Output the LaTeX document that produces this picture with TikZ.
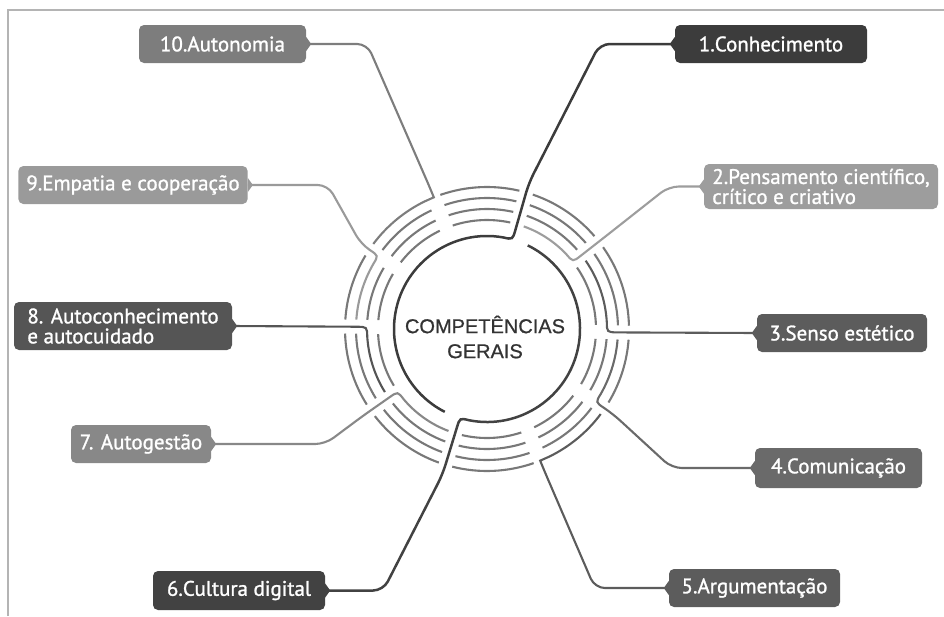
\documentclass[tikz,border=0pt]{standalone}
\usepackage{fontspec}
\setmainfont{PT Sans}
\newfontfamily\labelfont{PT Sans}[RawFeature={embolden=1.2}]
\newfontfamily\centerfont{Liberation Sans}[RawFeature={embolden=0.8}]
\usepackage{xcolor}
\definecolor{boxOne}{HTML}{3C3C3C}
\definecolor{boxTwo}{HTML}{9D9D9D}
\definecolor{boxThree}{HTML}{5C5C5C}
\definecolor{boxFour}{HTML}{6A6A6A}
\definecolor{boxFive}{HTML}{5C5C5C}
\definecolor{boxSix}{HTML}{424242}
\definecolor{boxSeven}{HTML}{888888}
\definecolor{boxEight}{HTML}{555555}
\definecolor{boxNine}{HTML}{9A9A9A}
\definecolor{boxTen}{HTML}{7D7D7D}
\definecolor{ringGray}{HTML}{787878}
\definecolor{coreDark}{HTML}{333333}
\definecolor{frameGray}{HTML}{B4B4B4}
\usetikzlibrary{positioning,calc}
\tikzset{%
  compBox/.style={%
    rectangle,
    rounded corners=5pt,
    text=white,
    font=\labelfont\fontsize{21}{20}\selectfont,
    minimum height=38pt,
    inner xsep=8pt,
    inner ysep=2pt
  },
  ringLine/.style={%
    draw=ringGray,
    line width=2.1pt
  },
  linkLine/.style={%
    line width=2.1pt,
    rounded corners=10pt
  },
  coreText/.style={%
    text=coreDark,
    align=center,
    font=\centerfont\fontsize{20}{25}\selectfont
  },
  frameLine/.style={%
    draw=frameGray,
    line width=1.2pt
  }
}

\begin{document}
\begin{tikzpicture}[x=1pt,y=1pt]
            \useasboundingbox (0,0) rectangle (944,-616);
            \draw[frameLine] (8,-616) -- (8,-10) -- (944,-10);

            \node[compBox, fill=boxOne, minimum width=192pt] (k1) at (771,-44) {1.Conhecimento};
            \node[compBox, fill=boxTwo, minimum width=234pt, minimum height=45pt, align=left] (k2) at (821,-186.5) {2.Pensamento científico,\\crítico e criativo};
            \node[compBox, fill=boxThree, minimum width=170pt] (k3) at (842,-333) {3.Senso estético};
            \node[compBox, fill=boxFour, minimum width=167pt, minimum height=40pt] (k4) at (838.5,-468) {4.Comunicação};
            \node[compBox, fill=boxFive, minimum width=171pt] (k5) at (754.5,-588) {5.Argumentação};
            \node[compBox, fill=boxSix, minimum width=172pt, minimum height=39pt] (k6) at (239,-590.5) {6.Cultura digital};
            \node[compBox, fill=boxSeven, minimum width=140pt] (k7) at (141,-444) {7. Autogestão};
            \node[compBox, fill=boxEight, minimum width=218pt, minimum height=48pt, align=left] (k8) at (123,-326) {8. Autoconhecimento\\e autocuidado};
            \node[compBox, fill=boxNine, minimum width=224pt] (k9) at (133,-185) {9.Empatia e cooperação};
            \node[compBox, fill=boxTen, minimum width=167pt] (k10) at (222.5,-44) {10.Autonomia};

            % little tags where the lines meet the boxes
            \foreach \n/\c in {k1/boxOne, k2/boxTwo, k3/boxThree, k4/boxFour, k5/boxFive}
              \fill[\c] ([yshift=7pt]\n.west) -- ([xshift=-5pt]\n.west) -- ([yshift=-7pt]\n.west) -- cycle;
            \foreach \n/\c in {k6/boxSix, k7/boxSeven, k8/boxEight, k9/boxNine, k10/boxTen}
              \fill[\c] ([yshift=7pt]\n.east) -- ([xshift=5pt]\n.east) -- ([yshift=-7pt]\n.east) -- cycle;

            \node[coreText] (core) at (485,-337) {COMPETÊNCIAS\\GERAIS};

            \begin{scope}[shift={(487,-329)}]
              % ring pieces between the spokes
              \foreach \a/\b/\tg in {-1.5/38/2, 38/74/1, 74/112/0, 112/146/4, 146/179/3, 179/215/2, 215/253/1, 253/292/0, 292/326/4, 326/358.5/3}
                \foreach \i in {1,...,4}{
                  \ifnum\i=\tg\relax\else
                    \pgfmathsetmacro\rr{98+11*\i}
                    \draw[ringLine] ({\a+401/\rr}:\rr) arc[start angle={\a+401/\rr}, end angle={\b-401/\rr}, radius=\rr];
                  \fi
                }

              \draw[linkLine, draw=boxOne, line width=2.5pt] (k1.west) -- ++(-75,0) -- (74:152) [sharp corners] -- (74:103) .. controls (74:93) .. (80:93) arc[start angle=80, end angle=243, radius=93];
              \draw[linkLine, draw=boxTwo] (k2.west) -- ++(-35,0) -- (38:152) [sharp corners] -- (38:119) .. controls (38:109) .. (43.3:109) arc[start angle=43.3, end angle=70.3, radius=109];
              \draw[linkLine, draw=boxThree, sharp corners] (k3.west) -- (-1.5:130) .. controls (-1.5:120) .. (3.3:120) arc[start angle=3.3, end angle=34.7, radius=120];
              \draw[linkLine, draw=boxFour] (k4.west) -- ++(-83,0) -- (-34:152) [sharp corners] -- (-34:141) .. controls (-34:131) .. (-29.6:131) arc[start angle=-29.6, end angle=-4.6, radius=131];
              \draw[linkLine, draw=boxFive] (k5.west) -- ++(-74,0) -- (-68:152) [sharp corners] .. controls (-68:142) .. (-64:142) arc[start angle=-64, end angle=-36.8, radius=142];
              \draw[linkLine, draw=boxSix, line width=2.5pt] (k6.east) -- ++(58,0) -- (-107:152) [sharp corners] -- (-107:103) .. controls (-107:93) .. (-101:93) arc[start angle=-101, end angle=64, radius=93];
              \draw[linkLine, draw=boxSeven] (k7.east) -- ++(114,0) -- (215:152) [sharp corners] -- (215:119) .. controls (215:109) .. (220.3:109) arc[start angle=220.3, end angle=249.3, radius=109];
              \draw[linkLine, draw=boxEight, sharp corners] (k8.east) -- (179:130) .. controls (179:120) .. (183.8:120) arc[start angle=183.8, end angle=211.7, radius=120];
              \draw[linkLine, draw=boxNine] (k9.east) -- ++(80,0) -- (146:152) [sharp corners] -- (146:141) .. controls (146:131) .. (150.4:131) arc[start angle=150.4, end angle=175.9, radius=131];
              \draw[linkLine, draw=boxTen] (k10.east) -- ++(61,0) -- (112:152) [sharp corners] .. controls (112:142) .. (116:142) arc[start angle=116, end angle=143.2, radius=142];
            \end{scope}
        \end{tikzpicture}
\end{document}
